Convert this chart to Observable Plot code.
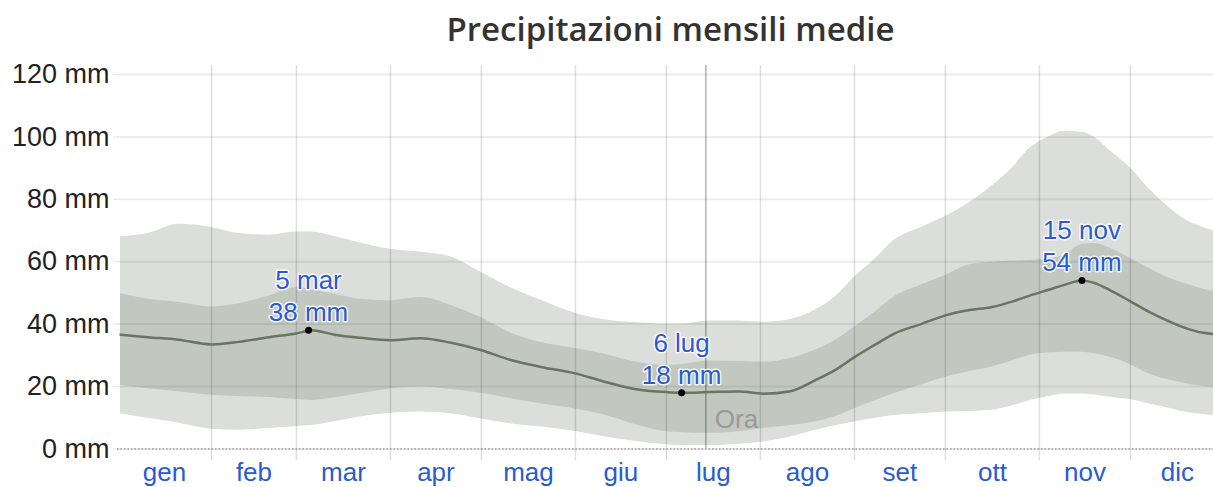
<!DOCTYPE html>
<html><head><meta charset="utf-8">
<script src="https://cdn.jsdelivr.net/npm/d3@7"></script>
<script src="https://cdn.jsdelivr.net/npm/@observablehq/plot@0.6"></script>
<style>
html,body{margin:0;padding:0;background:#fff;overflow:hidden;width:1213px;height:487px}
#title{height:56px;font-family:"Open Sans",sans-serif;font-weight:600;font-size:33px;color:#333;text-align:center;line-height:58px;padding-left:128px;box-sizing:border-box}
</style></head><body>
<div id="title">Precipitazioni mensili medie</div>
<div id="chart"></div>
<script>
// day of year (0 = 1 gen)
const days = [1,10,20,31,40,50,59,64,72,80,90,100,110,120,130,140,151,160,170,181,186,195,205,213,222,230,237,243,250,256,265,273,281,288,295,301,307,312,318,322,328,334,340,346,352,358,365];
// 10th percentile
const p10 = [11.3,9.8,8.3,6.3,6,6.5,7.2,7.5,8.8,10.2,11.4,11.8,11.3,9.6,8,7,5.6,4,2.5,1.3,1.1,1.1,1.5,2.2,3.8,5.9,7.5,8.6,9.8,10.7,11.3,11.8,12,12.3,13.8,15.5,16.8,17.6,17.6,17.3,16.5,15.8,14.5,13.2,11.8,11,10.5];
// 25th percentile
const p25 = [20.4,19.3,18.3,17.2,16.8,16.5,15.8,15.5,16.5,17.7,19.2,19.8,19,17.8,16,14.4,12.8,11,8,5.5,5.2,5,5.5,6.5,7.5,8.6,10.5,12.9,15.5,17.7,20.5,23,24.8,26.2,28.2,30,30.8,31,31,30.5,29.2,27,24.1,22.3,21,20,19.5];
// median
const p50 = [36.6,35.8,35,33.5,34.3,35.8,37,38,36.5,35.6,34.8,35.5,34,31.6,28.4,26.2,24.2,21.7,19.3,18.2,18,18.2,18.4,17.7,18.5,22,25.5,29.4,33.5,36.9,40,42.8,44.5,45.4,47.2,49.2,51,52.5,54,53.2,50.5,47.3,44,41.2,38.8,37.2,36.6];
// 75th percentile
const p75 = [49.7,48,47,45.5,46.5,49,51.7,51,49.5,48,47.5,48.5,46,42,37,34,32.2,30.5,28,26.8,27,28.2,28,27.8,29,31.6,35,39,44,48.6,52.5,55.6,59,59.8,60.2,60.4,61,62,65.5,65.8,64,61,58,55,53,51.2,50];
// 90th percentile
const p90 = [68,69,72,71,69,68.5,69.5,69.5,68,66,64,63,61.5,56.5,51.5,47.5,43.5,41.5,40.5,40,40,41,41,40.6,41.5,44.4,49,55,61,66.8,71,74.5,79,84,90,96.5,100,101.8,101.5,100,95,90,83.5,78,73.5,71,69];

const monthNames = ["gen","feb","mar","apr","mag","giu","lug","ago","set","ott","nov","dic"];
const monthLengths = [31,28,31,30,31,30,31,31,30,31,30,31];
const yTicks = [0,20,40,60,80,100,120];

const hlDays = [63,186,318];
const hlLabels = ["5 mar","6 lug","15 nov"];
const hlValues = [38,18,54];
const nowDay = 194;
const nowLabel = "Ora";

const monthStarts = monthLengths.map((l,i)=>d3.sum(monthLengths.slice(0,i)));
const monthMids = monthStarts.map((s,i)=>s+monthLengths[i]/2);
const boundaries = monthStarts.slice(1);
const table = days.map((d,i)=>({day:d,p10:p10[i],p25:p25[i],p50:p50[i],p75:p75[i],p90:p90[i]}));
const highlights = hlDays.map((d,i)=>({day:d,value:hlValues[i],label:hlLabels[i]}));

const blue = "#2a5bd0";
const chart = Plot.plot({
  width:1213, height:431,
  marginLeft:117, marginRight:0, marginTop:18, marginBottom:38.6,
  x:{domain:[0,361.4], label:null},
  y:{domain:[0,120], label:null},
  style:{fontFamily:"'Liberation Sans', Arial, sans-serif", fontSize:"26px", background:"#fff", overflow:"visible"},
  marks:[
    Plot.areaY(table,{x:"day", y1:"p10", y2:"p90", fill:"#dcdedb", curve:"monotone-x", clip:true}),
    Plot.areaY(table,{x:"day", y1:"p25", y2:"p75", fill:"#c2c7bf", curve:"monotone-x", clip:true}),
    Plot.gridY({ticks:yTicks, stroke:"#000", strokeOpacity:0.07, strokeWidth:2}),
    Plot.ruleX(boundaries,{stroke:"#000", strokeOpacity:0.13, strokeWidth:1.5, insetTop:-9, insetBottom:-12}),
    Plot.ruleX([nowDay],{stroke:"#000", strokeOpacity:0.3, strokeWidth:1.5, insetTop:-9}),
    Plot.ruleY([0],{stroke:"#999", strokeWidth:1.5, strokeDasharray:"1.5,2"}),
    Plot.lineY(table,{x:"day", y:"p50", stroke:"#677660", strokeWidth:2.5, curve:"monotone-x", clip:true}),
    Plot.dot(highlights,{x:"day", y:"value", r:3.5, fill:"#000"}),
    Plot.text(highlights,{x:"day", y:"value", text:d=>`${d.label}\n${d.value} mm`, lineAnchor:"bottom", lineHeight:1.23, dy:-9, fill:blue, stroke:"white", strokeOpacity:0.85, strokeWidth:3, paintOrder:"stroke"}),
    Plot.text([{day:nowDay,t:nowLabel}],{x:"day", text:"t", frameAnchor:"bottom", textAnchor:"start", dx:9, dy:-21, fill:"#9a9a9a"}),
    Plot.axisY({ticks:yTicks, tickFormat:d=>`${d} mm`, tickSize:4, tickPadding:4, stroke:"#e6e6e6", fill:"#222", fontSize:27, label:null}),
    Plot.axisX({ticks:monthMids, tickFormat:d=>monthNames[monthMids.indexOf(d)], tickSize:0, tickPadding:14, fill:blue, label:null})
  ]
});
document.getElementById("chart").append(chart);
</script>
</body></html>
